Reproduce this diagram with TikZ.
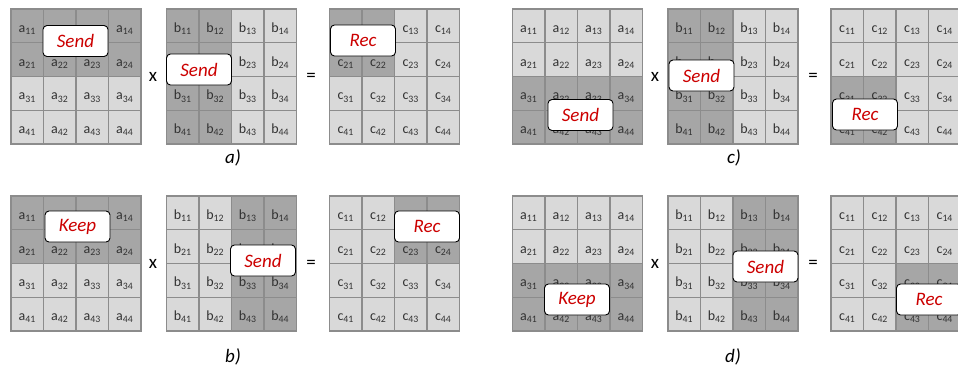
\documentclass[tikz,border=0pt]{standalone}
\usepackage{fontspec}
\setmainfont{Carlito}
\definecolor{darkcell}{RGB}{166,166,166}
\definecolor{lightcell}{RGB}{217,217,217}
\definecolor{gridline}{RGB}{140,140,140}
\definecolor{tagred}{RGB}{204,0,0}
\definecolor{labelgray}{RGB}{50,50,50}

% #1 name, #2 letter, #3 x0, #4 y0, #5-#6 dark rows, #7-#8 dark columns
\newcommand{\cellgrid}[8]{%
  \foreach \r in {1,...,4}{%
    \foreach \c in {1,...,4}{%
      \pgfmathtruncatemacro\isdark{(\r>=#5)&&(\r<=#6)&&(\c>=#7)&&(\c<=#8)}%
      \ifnum\isdark=1 \def\cellfill{darkcell}\else\def\cellfill{lightcell}\fi
      \node[cell, fill=\cellfill] (#1-\r\c) at ({#3+(\c-0.5)*32.5}, {#4+(\r-0.5)*33.75})
        {#2\textsubscript{\r\c}};
    }%
  }%
}

\begin{document}
\begin{tikzpicture}[x=1pt, y=-1pt,
    cell/.style={rectangle, draw=gridline, line width=1.2pt,
                 minimum width=32.5pt, minimum height=33.75pt,
                 inner sep=0pt, outer sep=0pt, text=labelgray,
                 text height=13pt, text depth=0pt,
                 font=\fontsize{14}{16}\selectfont},
    tag/.style={rectangle, rounded corners=4pt, draw=black, line width=0.9pt,
                fill=white, minimum width=65pt, minimum height=31pt,
                inner sep=0pt, text=tagred,
                font=\fontsize{19}{22}\selectfont\itshape},
    op/.style={font=\fontsize{19}{22}\selectfont},
    caption/.style={font=\fontsize{19}{22}\selectfont\itshape}
]
\useasboundingbox (0,0) rectangle (958,368);

% a)
\cellgrid{aA}{a}{11}{9}{1}{2}{1}{4}
\cellgrid{aB}{b}{166.5}{9}{1}{4}{1}{2}
\cellgrid{aC}{c}{329.5}{9}{1}{2}{1}{2}
\node[op] (aTimes) at (153,77) {x};
\node[op] (aEq) at (311,77) {=};
\node[tag] (aSendA) at (75.5,41) {Send};
\node[tag] (aSendB) at (199,69.5) {Send};
\node[tag] (aRecC) at (363,40.5) {Rec};
\node[caption] (capA) at (233,158) {a)};

% c)
\cellgrid{cA}{a}{512.5}{9}{3}{4}{1}{4}
\cellgrid{cB}{b}{668}{9}{1}{4}{1}{2}
\cellgrid{cC}{c}{831}{9}{3}{4}{1}{2}
\node[op] (cTimes) at (655,77) {x};
\node[op] (cEq) at (813,77) {=};
\node[tag] (cSendA) at (580.5,115) {Send};
\node[tag] (cSendB) at (701.5,75.5) {Send};
\node[tag] (cRecC) at (865,114.5) {Rec};
\node[caption] (capC) at (734,158) {c)};

% b)
\cellgrid{bA}{a}{11}{196}{1}{2}{1}{4}
\cellgrid{bB}{b}{166.5}{196}{1}{4}{3}{4}
\cellgrid{bC}{c}{329.5}{196}{1}{2}{3}{4}
\node[op] (bTimes) at (153,264) {x};
\node[op] (bEq) at (311,264) {=};
\node[tag] (bKeepA) at (77.5,226.5) {Keep};
\node[tag] (bSendB) at (263,260.5) {Send};
\node[tag] (bRecC) at (427,226.5) {Rec};
\node[caption] (capB) at (233,357) {b)};

% d)
\cellgrid{dA}{a}{512.5}{196}{3}{4}{1}{4}
\cellgrid{dB}{b}{668}{196}{1}{4}{3}{4}
\cellgrid{dC}{c}{831}{196}{3}{4}{3}{4}
\node[op] (dTimes) at (655,264) {x};
\node[op] (dEq) at (813,264) {=};
\node[tag] (dKeepA) at (577,299.5) {Keep};
\node[tag] (dSendB) at (765.5,266.5) {Send};
\node[tag] (dRecC) at (929,299.5) {Rec};
\node[caption] (capD) at (733,357) {d)};
\end{tikzpicture}
\end{document}
